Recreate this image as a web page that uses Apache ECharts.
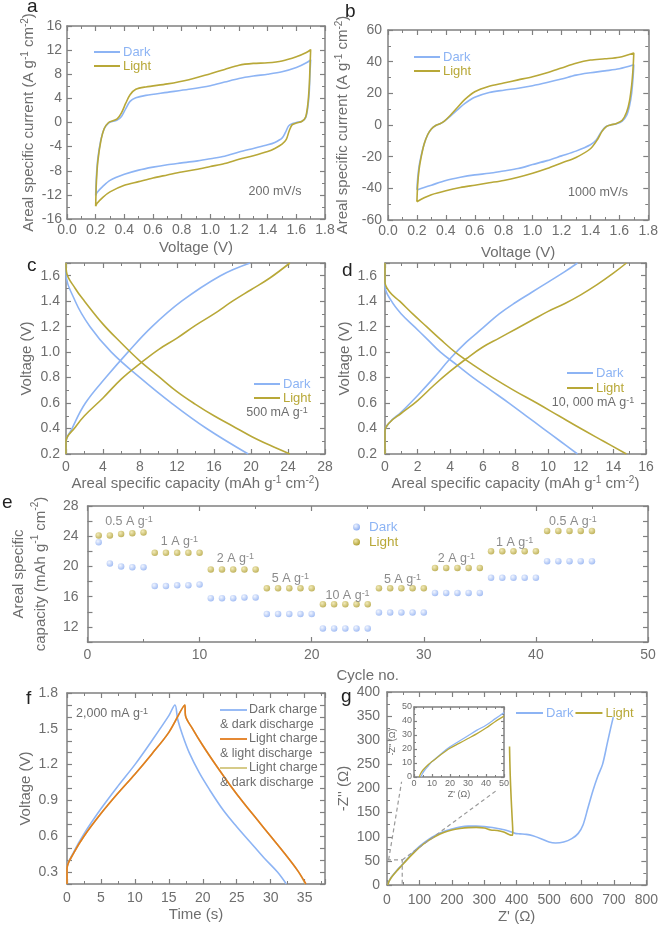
<!DOCTYPE html>
<html><head><meta charset="utf-8">
<script src="https://cdn.jsdelivr.net/npm/echarts@6/dist/echarts.min.js"></script>
<style>html,body{margin:0;padding:0;background:#fff}#c{width:661px;height:929px}</style>
</head><body><div id="c"></div>
<script>
// ---------------- DATA ----------------
// (a) CV at 200 mV/s : [V, A g-1 cm-2]
const cvA_dark = [[0.2,-12.1],[0.205,-9],[0.215,-6],[0.235,-3],[0.26,-1],[0.29,-0.1],[0.32,0.2],[0.35,0.4],[0.38,1.0],[0.41,2.3],[0.44,3.5],[0.48,4.1],[0.55,4.5],[0.7,5.0],[0.85,5.5],[1.0,6.1],[1.1,6.7],[1.2,7.3],[1.3,7.7],[1.4,8.0],[1.5,8.4],[1.6,9.1],[1.67,9.9],[1.7,10.4],
  [1.695,8],[1.69,5],[1.68,2.5],[1.665,0.8],[1.64,0.2],[1.6,0],[1.57,-0.2],[1.545,-0.6],[1.525,-1.6],[1.5,-2.6],[1.45,-3.3],[1.4,-3.7],[1.3,-4.3],[1.2,-4.9],[1.1,-5.6],[1.0,-6.0],[0.9,-6.4],[0.8,-6.7],[0.7,-7.0],[0.6,-7.4],[0.5,-7.9],[0.4,-8.6],[0.3,-9.6],[0.25,-10.6],[0.21,-11.6],[0.2,-12.1]];
const cvA_light = [[0.2,-13.9],[0.205,-10],[0.215,-6.5],[0.235,-3.2],[0.26,-1],[0.29,0],[0.32,0.3],[0.35,0.6],[0.38,1.6],[0.41,3.2],[0.44,4.6],[0.48,5.5],[0.55,5.9],[0.7,6.4],[0.85,7.1],[1.0,8.1],[1.1,8.8],[1.2,9.5],[1.3,9.8],[1.4,9.9],[1.5,10.2],[1.6,10.9],[1.67,11.6],[1.7,12.1],
  [1.695,9],[1.69,6],[1.68,3],[1.665,0.9],[1.64,0.2],[1.6,-0.1],[1.57,-0.4],[1.55,-1.4],[1.53,-2.8],[1.5,-3.6],[1.45,-4.3],[1.4,-4.8],[1.3,-5.5],[1.2,-6.1],[1.1,-6.8],[1.0,-7.3],[0.9,-7.8],[0.8,-8.2],[0.7,-8.7],[0.6,-9.2],[0.5,-9.8],[0.4,-10.4],[0.3,-11.5],[0.25,-12.4],[0.21,-13.4],[0.2,-13.9]];
// (b) CV at 1000 mV/s
const cvB_dark = [[0.2,-41],[0.205,-34],[0.215,-26],[0.23,-19],[0.25,-12],[0.275,-6],[0.3,-2.5],[0.33,-0.3],[0.36,0.8],[0.39,2.5],[0.43,5.5],[0.48,9.5],[0.53,13.5],[0.6,17.5],[0.7,20.5],[0.8,22],[0.9,23.2],[1.0,24.8],[1.1,26.8],[1.2,29],[1.3,31.5],[1.4,33],[1.5,34.2],[1.6,35.5],[1.7,38],
  [1.695,30],[1.685,20],[1.67,12],[1.65,6],[1.62,2.5],[1.58,0.8],[1.53,-0.2],[1.5,-1.5],[1.47,-5],[1.44,-9.5],[1.4,-12.5],[1.3,-16.5],[1.2,-19.5],[1.1,-22.5],[1.0,-25],[0.9,-27.5],[0.8,-29],[0.7,-30.5],[0.6,-31.5],[0.5,-33],[0.4,-35],[0.3,-38],[0.25,-39.5],[0.2,-41]];
const cvB_light = [[0.2,-48.5],[0.205,-38],[0.215,-28],[0.23,-20],[0.25,-12],[0.275,-6],[0.3,-2.5],[0.33,-0.3],[0.36,0.8],[0.39,2.5],[0.43,6],[0.48,11],[0.53,16],[0.6,21],[0.7,24.5],[0.8,26.5],[0.9,28.5],[1.0,30.5],[1.1,33],[1.2,36],[1.3,39],[1.4,41],[1.5,41.8],[1.6,42.8],[1.7,45.5],
  [1.695,36],[1.685,25],[1.67,15],[1.65,8],[1.62,3],[1.58,1.0],[1.54,0],[1.51,-1],[1.48,-4],[1.45,-9],[1.4,-15],[1.3,-20.5],[1.2,-24],[1.1,-27.5],[1.0,-30.5],[0.9,-33],[0.8,-35],[0.7,-36.5],[0.6,-38],[0.5,-39.5],[0.4,-41.5],[0.3,-44],[0.25,-46],[0.2,-48.5]];
// (c) GCD at 500 mA g-1 : [capacity, V]
const gcdC_darkCharge = [[0,0.2],[0,0.29],[0.65,0.4],[2.1,0.6],[4.3,0.8],[6.7,1.0],[9.3,1.2],[12.5,1.4],[16.7,1.6],[19.9,1.7]];
const gcdC_darkDischarge = [[0,1.7],[0,1.63],[1.0,1.4],[2.6,1.2],[4.9,1.0],[8.0,0.8],[11.4,0.6],[15.2,0.4],[19.7,0.2]];
const gcdC_lightCharge = [[0,0.2],[0,0.3],[1,0.41],[2,0.5],[4,0.64],[6,0.79],[8,0.91],[10,1.02],[12,1.11],[14,1.21],[16,1.3],[18,1.4],[20,1.49],[22,1.58],[24.2,1.7]];
const gcdC_lightDischarge = [[0,1.7],[0.05,1.63],[1,1.5],[2,1.4],[4,1.22],[6,1.07],[8,0.93],[10,0.81],[12,0.69],[14,0.59],[16,0.5],[18,0.42],[20,0.34],[22,0.27],[24.2,0.2]];
// (d) GCD at 10,000 mA g-1
const gcdD_darkCharge = [[0,0.2],[0,0.38],[0.3,0.45],[1,0.53],[2,0.66],[3,0.8],[4,0.95],[5,1.08],[6,1.19],[7,1.3],[8,1.39],[9,1.47],[10,1.55],[11,1.63],[11.8,1.7]];
const gcdD_darkDischarge = [[0,1.7],[0,1.52],[0.4,1.4],[1.0,1.3],[1.8,1.2],[2.6,1.1],[3.4,1.0],[4.4,0.9],[5.4,0.8],[6.5,0.7],[7.6,0.6],[8.65,0.5],[9.7,0.4],[10.75,0.3],[11.8,0.2]];
const gcdD_lightCharge = [[0,0.2],[0,0.38],[0.3,0.45],[1,0.52],[2,0.62],[3,0.74],[4,0.85],[5,0.95],[6,1.04],[7,1.11],[8,1.18],[9,1.25],[10,1.32],[11,1.38],[12,1.45],[13,1.53],[14,1.62],[14.8,1.7]];
const gcdD_lightDischarge = [[0,1.7],[0,1.55],[0.3,1.47],[0.9,1.4],[1.7,1.3],[2.55,1.2],[3.4,1.1],[4.3,1.0],[5.4,0.9],[6.6,0.8],[7.9,0.7],[9.3,0.6],[10.65,0.5],[12.0,0.4],[13.4,0.3],[14.8,0.2]];
// (e) rate capability
const cycles   = [1,2,3,4,5,6,7,8,9,10,11,12,13,14,15,16,17,18,19,20,21,22,23,24,25,26,27,28,29,30,31,32,33,34,35,36,37,38,39,40,41,42,43,44,45];
const capDark  = [23.2,20.4,20.0,19.9,19.9, 17.4,17.4,17.5,17.5,17.6, 15.8,15.8,15.8,15.9,15.9, 13.7,13.7,13.7,13.7,13.7, 11.8,11.8,11.8,11.8,11.8, 13.9,13.9,13.9,13.9,13.9, 16.5,16.5,16.5,16.5,16.5, 18.5,18.5,18.5,18.5,18.5, 20.7,20.7,20.7,20.7,20.7];
const capLight = [24.1,24.1,24.3,24.4,24.5, 21.8,21.8,21.8,21.8,21.8, 19.6,19.6,19.6,19.6,19.6, 17.1,17.1,17.1,17.1,17.1, 15.0,15.0,15.0,15.0,15.0, 17.1,17.1,17.1,17.1,17.1, 19.8,19.8,19.8,19.8,19.8, 22.0,22.0,22.0,22.0,22.0, 24.7,24.7,24.7,24.7,24.7];
const rateText = ['0.5','1','2','5','10','5','2','1','0.5'];
const rateX    = [3.7, 8.2, 13.2, 18.1, 23.2, 28.1, 32.9, 38.1, 43.3];
const rateY    = [25.9, 23.3, 21.1, 18.4, 16.1, 18.3, 21.1, 23.2, 26.0];
// (f) GCD at 2,000 mA g-1 : [s, V]
const fDarkDark = [[0,0.2],[0,0.33],[1,0.47],[2.5,0.62],[5,0.83],[7.5,1.02],[10,1.2],[12.5,1.4],[15,1.61],[15.9,1.7],
  [16.3,1.58],[17,1.45],[18,1.3],[19.5,1.13],[21,0.99],[23,0.82],[25,0.68],[27,0.55],[29,0.42],[31,0.3],[32.3,0.2]];
const fLightDark = [[0,0.2],[0,0.33],[1,0.46],[2.5,0.6],[5,0.79],[7.5,0.96],[10,1.12],[12.5,1.29],[15,1.47],[17.35,1.7],
  [17.45,1.61],[18.5,1.5],[20,1.36],[22,1.19],[24,1.03],[26,0.88],[28,0.74],[30,0.6],[32,0.46],[34,0.31],[35.1,0.2]];
const fLightLight = [[0,0.2],[0,0.33],[1,0.46],[2.5,0.6],[5,0.79],[7.5,0.96],[10,1.12],[12.5,1.29],[15,1.47],[17.35,1.7],
  [17.45,1.61],[18.5,1.5],[20,1.36],[22,1.19],[24,1.03],[26,0.88],[28,0.74],[30,0.6],[32,0.46],[34,0.31],[35.2,0.2]];
// (g) Nyquist : [Z', -Z'']
const eisDark = [[3,0],[5,6],[10,13],[20,22],[30,30],[45,41],[60,52],[80,67],[100,80],[125,93],[150,103],[175,111],[200,116],[225,120],[250,122],[275,122],[300,121],[325,119],[350,116],[375,112],[395,107],[410,106],[430,105],[450,102],[475,96],[500,89],[520,87],[545,89],[570,96],[590,107],[605,125],[620,160],[635,195],[650,225],[665,250],[680,295],[690,325],[698,348]];
const eisLight = [[3,0],[5,6],[10,12],[20,21],[30,29],[45,40],[60,51],[80,65],[100,78],[125,91],[150,101],[175,109],[200,114],[225,117],[250,119],[275,119.5],[300,118],[320,114],[340,113],[360,110],[378,104],[386,103],[388,110],[386,140],[383,180],[380,230],[378,287]];
const insetDark = [[4,0],[4.5,2],[6,5],[8,8],[10,11],[15,16.5],[20,21.5],[25,25.5],[30,29.5],[35,33.5],[40,37],[45,41.5],[50,46]];
const insetLight = [[3,0],[3.5,2],[5,5],[8,9],[10,11],[15,16],[20,20.5],[25,24],[30,27.5],[35,31],[40,35],[45,39.5],[50,43.5]];
const zoomBox = [[0,52],[47,52],[47,0]];
const zoomLink1 = [[5,52],[45,214]];
const zoomLink2 = [[47,52],[342,198]];

// ---------------- STYLE ----------------
const FONT = 'Arial, "Liberation Sans", Helvetica, sans-serif';
const AX = '#808080', TXT = '#6e6e6e';
const BLUE = '#8db4f4', OLIVE = '#b8a838', ORANGE = '#e27c1e', KHAKI = '#d2c67c';
const SUP = { fontSize: 10, verticalAlign: 'top', fontFamily: FONT, color: TXT };

const grids = [], xAxes = [], yAxes = [];
function axisCommon(gi, o, p) {
  const t = p.tick || 5;
  return {
    gridIndex: gi, type: 'value', min: o.min, max: o.max, interval: o.interval,
    axisLine: { show: true, onZero: false, lineStyle: { color: AX, width: 1.5 } },
    axisTick: { show: true, inside: true, length: t, lineStyle: { color: AX, width: 1.2 } },
    minorTick: { show: o.minor !== 0, splitNumber: o.minor || 2, length: Math.round(t * 0.6), lineStyle: { color: AX, width: 1 } },
    splitLine: { show: false }, minorSplitLine: { show: false }
  };
}
function addPanel(p) {
  const gi = grids.length;
  grids.push({ left: p.left, top: p.top, width: p.width, height: p.height, show: !!p.bg, backgroundColor: p.bg || 'transparent', borderWidth: 0 });
  const fs = p.fs || 14, nfs = p.nfs || 15;
  const lab = (o, m) => ({ show: true, color: TXT, fontSize: fs, fontFamily: FONT, margin: m, formatter: o.fmt, showMaxLabel: o.hideMax ? false : null });
  const nts = (lh) => ({ color: TXT, fontSize: nfs, fontFamily: FONT, lineHeight: lh || nfs + 3, rich: { sup: Object.assign({}, SUP, { fontSize: Math.round(nfs * 0.66) }) } });
  xAxes.push(Object.assign(axisCommon(gi, p.x, p), { position: 'bottom', name: p.x.name, nameLocation: 'middle', nameGap: p.x.gap, nameTextStyle: nts(), axisLabel: lab(p.x, p.x.margin) }));
  xAxes.push(Object.assign(axisCommon(gi, p.x, p), { position: 'top', axisLabel: { show: false } }));
  yAxes.push(Object.assign(axisCommon(gi, p.y, p), { position: 'left', name: p.y.name, nameLocation: 'middle', nameGap: p.y.gap, nameTextStyle: nts(p.y.lh), axisLabel: lab(p.y, p.y.margin) }));
  yAxes.push(Object.assign(axisCommon(gi, p.y, p), { position: 'right', axisLabel: { show: false } }));
  return gi;
}
const f1 = v => v.toFixed(1);
const SPEC = 'A g{sup|-1} cm{sup|-2}';

const gA = addPanel({ left: 67, top: 26, width: 258, height: 193,
  x: { min: 0, max: 1.8, interval: 0.2, fmt: f1, name: 'Voltage (V)', gap: 20, margin: 4 },
  y: { min: -16, max: 16, interval: 4, name: 'Areal specific current (' + SPEC + ')', gap: 29, margin: 5 } });
const gB = addPanel({ left: 388, top: 30, width: 262, height: 190,
  x: { min: 0, max: 1.8, interval: 0.2, fmt: f1, name: 'Voltage (V)', gap: 24, margin: 4 },
  y: { min: -60, max: 60, interval: 20, name: 'Areal specific current (' + SPEC + ')', gap: 36, margin: 6 } });
const gC = addPanel({ left: 66, top: 263, width: 259, height: 191,
  x: { min: 0, max: 28, interval: 4, name: 'Areal specific capacity (mAh g{sup|-1} cm{sup|-2})', gap: 20, margin: 6 },
  y: { min: 0.2, max: 1.7, interval: 0.2, fmt: f1, hideMax: true, name: 'Voltage (V)', gap: 30, margin: 6 } });
const gD = addPanel({ left: 385, top: 263, width: 261, height: 191,
  x: { min: 0, max: 16, interval: 2, name: 'Areal specific capacity (mAh g{sup|-1} cm{sup|-2})', gap: 20, margin: 6 },
  y: { min: 0.2, max: 1.7, interval: 0.2, fmt: f1, hideMax: true, name: 'Voltage (V)', gap: 30, margin: 8 } });
const gE = addPanel({ left: 66, top: 506, width: 582, height: 136,
  x: { min: 0, max: 50, interval: 10, name: 'Cycle no.', gap: 25, margin: 6 },
  y: { min: 10, max: 28, interval: 2, minor: 0, fmt: v => (Math.round(v) % 4 === 0 && v >= 12) ? String(Math.round(v)) : '',
       name: 'Areal specific\ncapacity (mAh g{sup|-1} cm{sup|-2})', gap: 33, lh: 22, margin: 9 } });
const gF = addPanel({ left: 67, top: 693, width: 258, height: 191,
  x: { min: 0, max: 38, interval: 5, hideMax: true, name: 'Time (s)', gap: 22, margin: 7 },
  y: { min: 0.2, max: 1.8, interval: 0.1, minor: 0, fmt: v => { const r = Math.round(v * 10); return (r % 3 === 0 && r >= 3) ? (r / 10).toFixed(1) : ''; },
       name: 'Voltage (V)', gap: 29, margin: 9 } });
const gG = addPanel({ left: 387, top: 692, width: 260, height: 193,
  x: { min: 0, max: 800, interval: 100, name: "Z' (\u03A9)", gap: 19, margin: 8 },
  y: { min: 0, max: 400, interval: 50, name: "-Z'' (\u03A9)", gap: 34, margin: 7 } });
const gI = addPanel({ left: 414, top: 707, width: 90, height: 70, bg: '#ffffff', fs: 9, nfs: 9, tick: 3,
  x: { min: 0, max: 50, interval: 10, name: "Z' (\u03A9)", gap: 10, margin: 2 },
  y: { min: 0, max: 50, interval: 10, name: "-Z'' (\u03A9)", gap: 13, margin: 2 } });

const series = [];
function line(gi, name, data, color, extra) {
  series.push(Object.assign({ type: 'line', name, data, xAxisIndex: 2 * gi, yAxisIndex: 2 * gi, showSymbol: false, symbol: 'none',
    smooth: 0.3, lineStyle: { color, width: 1.6 }, itemStyle: { color }, animation: false, silent: true }, extra || {}));
}
line(gA, 'Dark', cvA_dark, BLUE); line(gA, 'Light', cvA_light, OLIVE);
line(gB, 'Dark', cvB_dark, BLUE); line(gB, 'Light', cvB_light, OLIVE);
line(gC, 'Dark', gcdC_darkCharge, BLUE, { smooth: 0.4 }); line(gC, 'Dark', gcdC_darkDischarge, BLUE, { smooth: 0.4 });
line(gC, 'Light', gcdC_lightCharge, OLIVE, { smooth: 0.4 }); line(gC, 'Light', gcdC_lightDischarge, OLIVE, { smooth: 0.4 });
line(gD, 'Dark', gcdD_darkCharge, BLUE, { smooth: 0.4 }); line(gD, 'Dark', gcdD_darkDischarge, BLUE, { smooth: 0.4 });
line(gD, 'Light', gcdD_lightCharge, OLIVE, { smooth: 0.4 }); line(gD, 'Light', gcdD_lightDischarge, OLIVE, { smooth: 0.4 });
line(gF, 'Dark charge & dark discharge', fDarkDark, BLUE, { smooth: 0.35 });
line(gF, 'Light charge & dark discharge', fLightDark, KHAKI, { smooth: 0.35 });
line(gF, 'Light charge & light discharge', fLightLight, ORANGE, { smooth: 0.35 });
line(gG, 'Dark', eisDark, BLUE); line(gG, 'Light', eisLight, OLIVE);
const dash = { smooth: false, lineStyle: { color: '#9a9a9a', width: 1.2, type: [4, 3] } };
line(gG, 'zoom', zoomBox, '#9a9a9a', dash);
line(gG, 'zoom', zoomLink1, '#9a9a9a', dash);
line(gG, 'zoom', zoomLink2, '#9a9a9a', dash);
line(gI, 'Dark', insetDark, BLUE, { lineStyle: { color: BLUE, width: 1.3 }, z: 5 });
line(gI, 'Light', insetLight, OLIVE, { lineStyle: { color: OLIVE, width: 1.3 }, z: 5 });

const ballDark = { type: 'radial', x: 0.38, y: 0.35, r: 0.7, colorStops: [{ offset: 0, color: '#eef3ff' }, { offset: 1, color: '#88aaf0' }] };
const ballLight = { type: 'radial', x: 0.38, y: 0.35, r: 0.7, colorStops: [{ offset: 0, color: '#efe6a8' }, { offset: 1, color: '#ad9c2e' }] };
series.push({ type: 'scatter', name: 'Dark', xAxisIndex: 2 * gE, yAxisIndex: 2 * gE, symbolSize: 6.5, data: cycles.map((c, i) => [c, capDark[i]]), itemStyle: { color: ballDark }, animation: false, silent: true });
series.push({ type: 'scatter', name: 'Light', xAxisIndex: 2 * gE, yAxisIndex: 2 * gE, symbolSize: 6.5, data: cycles.map((c, i) => [c, capLight[i]]), itemStyle: { color: ballLight }, animation: false, silent: true });
series.push({ type: 'scatter', name: 'rate', xAxisIndex: 2 * gE, yAxisIndex: 2 * gE, symbolSize: 1, itemStyle: { color: 'rgba(0,0,0,0)' },
  data: rateText.map((t, i) => [rateX[i], rateY[i], t]), animation: false, silent: true, z: 10,
  label: { show: true, position: 'inside', formatter: p => p.data[2] + ' A g{s|-1}', color: TXT, fontSize: 12.5, fontFamily: FONT,
    rich: { s: Object.assign({}, SUP, { fontSize: 9 }) } } });

// legends
function lg(left, top, orient, itemWidth, extra) {
  return Object.assign({ left, top, orient, icon: 'rect', itemWidth, itemHeight: 2, itemGap: 0, selectedMode: false,
    textStyle: { fontSize: 13, fontFamily: FONT, lineHeight: 14, padding: [0, 0, 0, -2] },
    data: [{ name: 'Dark', textStyle: { color: BLUE } }, { name: 'Light', textStyle: { color: OLIVE } }] }, extra || {});
}
const legends = [
  lg(89, 40, 'vertical', 26), lg(409, 45, 'vertical', 26), lg(249, 372, 'vertical', 26), lg(562, 361, 'vertical', 26, { itemGap: 1 }),
  lg(511, 701, 'horizontal', 27, { itemGap: 2 }),
  { left: 348, top: 515, orient: 'vertical', itemWidth: 7, itemHeight: 7, itemGap: 1, selectedMode: false,
    textStyle: { fontSize: 13.5, fontFamily: FONT, lineHeight: 14, padding: [0, 0, 0, 4] },
    data: [{ name: 'Dark', icon: 'circle', itemStyle: { color: ballDark }, textStyle: { color: BLUE } },
           { name: 'Light', icon: 'circle', itemStyle: { color: ballLight }, textStyle: { color: OLIVE } }] }
];

// text annotations
function txt(x, y, text, o) {
  return { type: 'text', silent: true, z: 100, style: Object.assign({ x, y, text, fill: TXT, fontSize: 12.5, fontFamily: FONT, align: 'center', verticalAlign: 'middle',
    rich: { s: Object.assign({}, SUP, { fontSize: 9 }) } }, o || {}) };
}
function letter(x, y, t) { return txt(x, y, t, { fill: '#222', fontSize: 19, align: 'left', verticalAlign: 'middle' }); }
function seg(x1, y1, x2, y2, c) { return { type: 'line', silent: true, z: 100, shape: { x1, y1, x2, y2 }, style: { stroke: c, lineWidth: 1.8 } }; }
const LF = { align: 'left', fontSize: 12.5 };
const graphic = [
  letter(27, 7, 'a'), letter(345, 12, 'b'), letter(27, 266, 'c'), letter(342, 271, 'd'), letter(2, 503, 'e'), letter(26, 699, 'f'), letter(341, 697, 'g'),
  txt(275, 192, '200 mV/s'), txt(598, 193, '1000 mV/s'), txt(277, 413, '500 mA g{s|-1}'), txt(593, 403, '10, 000 mA g{s|-1}'), txt(112, 714, '2,000 mA g{s|-1}'),
  seg(220, 710, 247, 710, BLUE), txt(249, 710, 'Dark charge', LF), txt(220, 725, '& dark discharge', LF),
  seg(220, 739, 247, 739, ORANGE), txt(249, 739, 'Light charge', LF), txt(220, 754, '& light discharge', LF),
  seg(220, 768, 247, 768, KHAKI), txt(249, 768, 'Light charge', LF), txt(220, 783, '& dark discharge', LF)
];

const chart = echarts.init(document.getElementById('c'), null, { renderer: 'canvas' });
chart.setOption({ animation: false, backgroundColor: '#ffffff', textStyle: { fontFamily: FONT },
  grid: grids, xAxis: xAxes, yAxis: yAxes, series, legend: legends, graphic });
</script></body></html>
